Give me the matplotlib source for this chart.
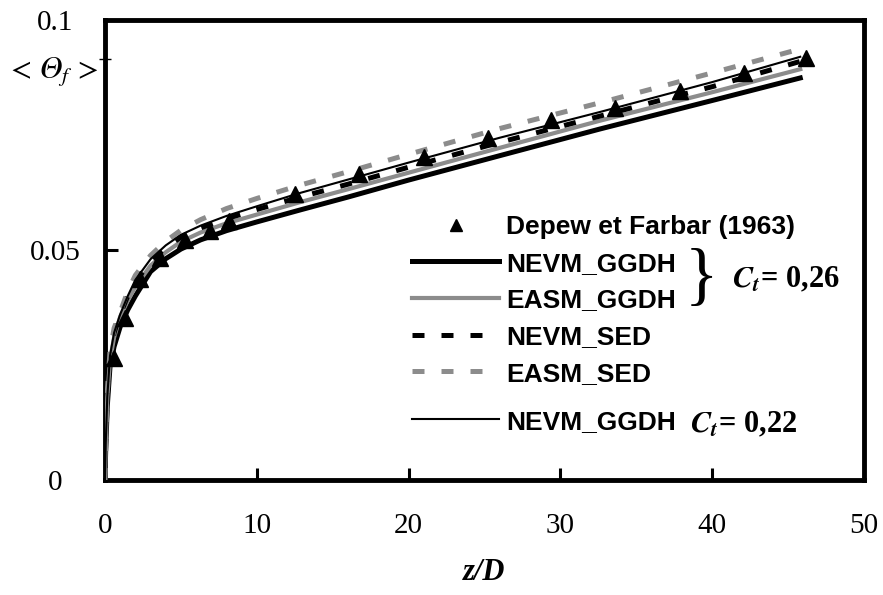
import matplotlib
matplotlib.use("Agg")
import matplotlib.pyplot as plt

plt.rcParams['mathtext.fontset'] = 'stix'

# experimental points, Depew et Farbar (1963)
exp_x = [0.6, 1.3, 2.3, 3.6, 5.3, 6.9, 8.2, 12.5, 16.7, 21.0, 25.2, 29.4, 33.6, 37.9, 42.1, 46.2]
exp_y = [0.0265, 0.0352, 0.0437, 0.0483, 0.0522, 0.0541, 0.0563, 0.0622, 0.0665,
         0.0702, 0.0743, 0.0783, 0.0809, 0.0846, 0.0885, 0.0917]

# computed profiles (same z/D grid for all models)
zd = [0, 0.05, 0.15, 0.33, 0.6, 1.0, 1.5, 2.0, 3.0, 4.0, 5.0, 6.3, 8, 10, 12.85,
      16, 20, 26, 32.6, 40, 45.8]
nevm_ggdh_26 = [0, 0.007, 0.016, 0.0246, 0.029, 0.0333, 0.037, 0.040, 0.0453, 0.0481,
                0.0502, 0.0522, 0.0542, 0.0561, 0.0587, 0.0615, 0.0652, 0.0705, 0.0763,
                0.0825, 0.0874]
easm_ggdh_26 = [0, 0.008, 0.018, 0.026, 0.031, 0.0355, 0.039, 0.042, 0.0466, 0.0495,
                0.0518, 0.0538, 0.0558, 0.0577, 0.0604, 0.0632, 0.0668, 0.0722, 0.0781,
                0.0843, 0.0893]
nevm_sed = [0, 0.008, 0.018, 0.027, 0.032, 0.036, 0.040, 0.043, 0.0476, 0.0505,
            0.0528, 0.0548, 0.0568, 0.0588, 0.0615, 0.0643, 0.0680, 0.0734, 0.0791,
            0.0855, 0.0910]
easm_sed = [0, 0.009, 0.019, 0.028, 0.033, 0.0365, 0.041, 0.0445, 0.0488, 0.0519,
            0.0543, 0.0566, 0.0590, 0.0612, 0.0641, 0.0670, 0.0708, 0.0764, 0.0820,
            0.0885, 0.0937]
nevm_ggdh_22 = [0, 0.008, 0.018, 0.027, 0.032, 0.036, 0.040, 0.0435, 0.0480, 0.0510,
                0.0533, 0.0553, 0.0574, 0.0595, 0.0624, 0.0653, 0.0690, 0.0744, 0.0800,
                0.0865, 0.0920]

GRAY = '#8c8c8c'
DASH = (2.4, 3.4)

fig = plt.figure(figsize=(8.83, 5.95), dpi=100)
ax = fig.add_axes([0.1189, 0.1933, 0.8596, 0.7731])

l1, = ax.plot(zd, nevm_ggdh_26, color='black', lw=3.6, zorder=3)
l2, = ax.plot(zd, easm_ggdh_26, color=GRAY, lw=3.0, zorder=3)
l3, = ax.plot(zd, nevm_sed, color='black', lw=3.6, dashes=DASH, zorder=3)
l4, = ax.plot(zd, easm_sed, color=GRAY, lw=3.6, dashes=DASH, zorder=3)
l5, = ax.plot(zd, nevm_ggdh_22, color='black', lw=1.5, zorder=4)
pts, = ax.plot(exp_x, exp_y, ls='none', marker='^', ms=11, color='black', zorder=5)

ax.set_xlim(0, 50)
ax.set_ylim(0, 0.1)
ax.set_xticks([0, 10, 20, 30, 40, 50])
ax.set_yticks([0, 0.05, 0.1])
ax.set_yticklabels(['0', '0.05', '0.1'])
ax.set_yticks([0.0915], minor=True)
ax.tick_params(which='major', direction='in', length=9, width=2.2,
               labelsize=21)
ax.tick_params(which='minor', direction='inout', length=8, width=1)
ax.tick_params(axis='x', pad=24)
ax.tick_params(axis='y', pad=36)
for lab in ax.get_yticklabels():
    lab.set_horizontalalignment('center')
for lab in ax.get_xticklabels() + ax.get_yticklabels():
    lab.set_family('Liberation Serif')
for sp in ax.spines.values():
    sp.set_linewidth(3.5)

ax.set_xlabel('z/D', family='Liberation Serif', style='italic', fontsize=22,
              fontweight='bold')
ax.xaxis.set_label_coords(0.5, -0.17)
# U+1D6E9 = mathematical italic capital theta
ax.set_ylabel('$<\\,\U0001D6E9_f\\,>$', fontsize=22, rotation=0, va='center')
ax.yaxis.set_label_coords(-0.07, 0.887)

leg_font = {'family': 'Liberation Sans', 'weight': 'bold', 'size': 19}
leg1 = ax.legend([pts, l1, l2, l3, l4],
                 ['Depew et Farbar (1963)', 'NEVM_GGDH', 'EASM_GGDH', 'NEVM_SED', 'EASM_SED'],
                 loc='upper left', bbox_to_anchor=(0.405, 0.576), frameon=False,
                 prop=leg_font, handlelength=3.3, handletextpad=0.25,
                 labelspacing=0.48, borderpad=0, borderaxespad=0, markerscale=0.85)
ax.add_artist(leg1)
ax.legend([l5], ['NEVM_GGDH'], loc='upper left', bbox_to_anchor=(0.405, 0.153),
          frameon=False, prop=leg_font, handlelength=3.3, handletextpad=0.25,
          borderpad=0, borderaxespad=0)

ax.text(0.786, 0.435, '}', transform=ax.transAxes, fontsize=50,
        family='Liberation Serif', ha='center', va='center')
ax.text(0.826, 0.435, r'$\mathbfit{C_t}$= 0,26', transform=ax.transAxes, fontsize=22,
        family='Liberation Serif', fontweight='bold', ha='left', va='center')
ax.text(0.771, 0.12, r'$\mathbfit{C_t}$= 0,22', transform=ax.transAxes, fontsize=22,
        family='Liberation Serif', fontweight='bold', ha='left', va='center')

fig.savefig('out.png', dpi=100)
